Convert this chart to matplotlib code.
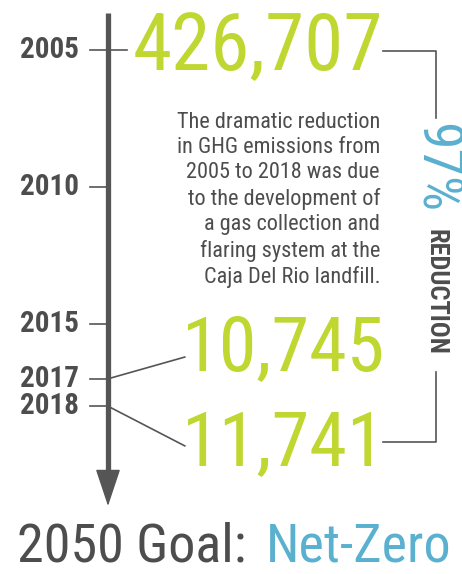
import matplotlib
matplotlib.use('Agg')
import matplotlib.pyplot as plt
from matplotlib import font_manager as fm
from matplotlib.patches import ConnectionPatch

# data
years = [2005, 2010, 2015, 2017, 2018]
emission_years = [2005, 2017, 2018]
emissions = [426707, 10745, 11741]
reduction_pct = 97
goal_year = 2050
goal_text = 'Net-Zero'
note = ('The dramatic reduction\nin GHG emissions from\n2005 to 2018 was due\n'
        'to the development of\na gas collection and\nflaring system at the\n'
        'Caja Del Rio landfill.')

names = {f.name for f in fm.fontManager.ttflist}
def pick(*cands):
    for c in cands:
        if c in names:
            return c
    return 'DejaVu Sans'
narrow = pick('Roboto Condensed', 'Liberation Sans Narrow', 'Liberation Sans')

green = '#bfd730'
blue = '#5ab0cf'
dark = '#4d4d4d'
line_c = '#555555'

W, H = 462, 574
fig = plt.figure(figsize=(W/100, H/100), dpi=100)

# timeline axes: y in years (2005 -> 50px, 27.4 px per year)
ax = fig.add_axes([0, 0, 1, 1])
ax.set_xlim(0, W)
ax.set_ylim(2005 + (H - 50)/27.4, 2005 - 50/27.4)
ax.axis('off')

# decoration axes in pixels
deco = fig.add_axes([0, 0, 1, 1])
deco.set_xlim(0, W)
deco.set_ylim(H, 0)
deco.axis('off')
deco.patch.set_alpha(0)

# arrow
deco.plot([108, 108], [13, 476], color=line_c, lw=3.8, solid_capstyle='butt')
deco.annotate('', xy=(108, 506), xytext=(108, 472),
              arrowprops=dict(arrowstyle='-|>,head_length=2.4,head_width=0.8',
                              mutation_scale=10, color=line_c, lw=1,
                              shrinkA=0, shrinkB=0))

# ticks + year labels
for yr in years:
    x1 = 127 if yr == years[0] else 108
    ax.plot([90, x1], [yr, yr], color=line_c, lw=1.2)
    ax.text(79, yr, str(yr), ha='right', va='center', fontsize=21,
            fontweight='bold', color=dark, family=narrow)

# emission numbers
num_pos = {2005: (258, 48), 2017: (284, 350), 2018: (284, 445)}
for yr, v in zip(emission_years, emissions):
    x, y = num_pos[yr]
    size = 57 if yr == 2005 else 55
    deco.text(x, y, f'{v:,}', ha='center', va='center', fontsize=size,
              color=green, family=narrow)

# leader lines from ticks to the numbers
for yr, end in [(2017, (185, 357)), (2018, (185, 446))]:
    con = ConnectionPatch(xyA=(108, yr), coordsA=ax.transData,
                          xyB=end, coordsB=deco.transData,
                          color=line_c, lw=1.2)
    deco.add_artist(con)

# bracket on the right
deco.plot([383, 436, 436], [51, 51, 118], color=line_c, lw=1.2)
deco.plot([436, 436, 383], [372, 442, 442], color=line_c, lw=1.2)
deco.text(435, 168, f'{reduction_pct}%', rotation=270, ha='center', va='center',
          fontsize=40, color=blue, family=narrow)
deco.text(435, 292, 'REDUCTION', rotation=270, ha='center', va='center',
          fontsize=19, fontweight='bold', color=dark, family=narrow)

# paragraph
deco.text(380, 200, note, ha='right', va='center', multialignment='right',
          fontsize=16, color=dark, family=narrow, linespacing=1.27)

# goal line
deco.text(17, 573, f'{goal_year} Goal:', ha='left', va='bottom',
          fontsize=39, color=dark, family=narrow)
deco.text(452, 573, goal_text, ha='right', va='bottom',
          fontsize=39, color=blue, family=narrow)

fig.savefig('out.png', dpi=100)
